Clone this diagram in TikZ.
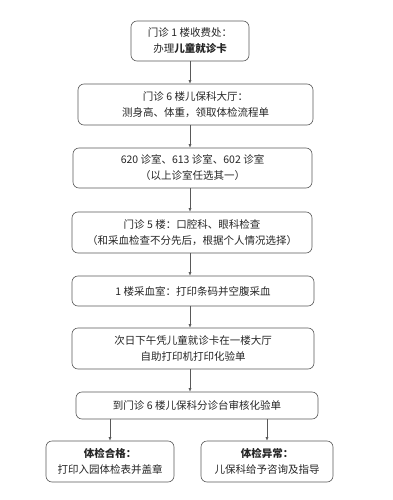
\documentclass[tikz,border=0pt]{standalone}
\usepackage{fontspec}
\usepackage{xcolor}
\usepackage{tikz}
\usetikzlibrary{arrows.meta}
\setmainfont{Noto Sans CJK SC}
\definecolor{FlowLine}{gray}{0.35}
\definecolor{FlowText}{gray}{0.15}

\tikzset{
  flowbox/.style={draw=FlowLine,line width=0.6pt,rounded corners=6pt,
    align=center,inner sep=0pt,text=FlowText},
  flowarrow/.style={draw=FlowLine,line width=0.6pt,-{Latex[length=3.5pt,width=3pt]}}
}

\begin{document}
\begin{tikzpicture}[x=1pt,y=-1pt,font=\fontsize{10.5}{16}\selectfont]
  \useasboundingbox[fill=white] (0,0) rectangle (392,500);
  % main column
  \node[flowbox,minimum width=118pt,minimum height=40pt] (reg) at (190,41)
    {门诊 1 楼收费处：\\办理\textbf{儿童就诊卡}};
  \node[flowbox,minimum width=235pt,minimum height=41pt] (hall) at (195.5,104.5)
    {门诊 6 楼儿保科大厅：\\测身高、体重，领取体检流程单};
  \node[flowbox,minimum width=239pt,minimum height=40pt] (room) at (192.5,168)
    {620 诊室、613 诊室、602 诊室\\（以上诊室任选其一）};
  \node[flowbox,minimum width=240pt,minimum height=41pt] (oral) at (192,232.5)
    {门诊 5 楼：口腔科、眼科检查\\（和采血检查不分先后，根据个人情况选择）};
  \node[flowbox,minimum width=242pt,minimum height=30pt] (blood) at (193,291)
    {1 楼采血室：打印条码并空腹采血};
  \node[flowbox,minimum width=242pt,minimum height=41pt] (print) at (193,348.5)
    {次日下午凭儿童就诊卡在一楼大厅\\自助打印机打印化验单};
  \node[flowbox,minimum width=242pt,minimum height=27pt] (review) at (197,405.5)
    {到门诊 6 楼儿保科分诊台审核化验单};
  % results
  \node[flowbox,minimum width=128pt,minimum height=41pt] (pass) at (110,461.5)
    {\textbf{体检合格：}\\打印入园体检表并盖章};
  \node[flowbox,minimum width=132pt,minimum height=41pt] (fail) at (267,461.5)
    {\textbf{体检异常：}\\儿保科给予咨询及指导};

  \draw[flowarrow] (reg.south) -- (hall.north -| reg.south);
  \draw[flowarrow] (hall.south -| reg.south) -- (room.north -| reg.south);
  \draw[flowarrow] (room.south -| reg.south) -- (oral.north -| reg.south);
  \draw[flowarrow] (oral.south -| reg.south) -- (blood.north -| reg.south);
  \draw[flowarrow] (blood.south -| reg.south) -- (print.north -| reg.south);
  \draw[flowarrow] (print.south -| reg.south) -- (review.north -| reg.south);
  \draw[flowarrow] (review.south -| pass.north) -- (pass.north);
  \draw[flowarrow] (review.south -| fail.north) -- (fail.north);
\end{tikzpicture}
\end{document}
